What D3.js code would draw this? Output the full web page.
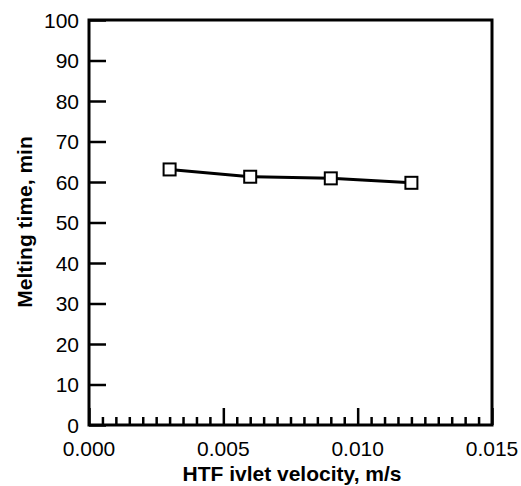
<!DOCTYPE html>
<html>
<head>
<meta charset="utf-8">
<script src="https://cdn.jsdelivr.net/npm/d3@7"></script>
<style>
  body { margin: 0; background: #fff; }
  text { font-family: "Liberation Sans", Arial, sans-serif; }
</style>
</head>
<body>
<div id="chart"></div>
<script>
// data
let velocity = [0.003, 0.006, 0.009, 0.012];
let meltTime = [63.1, 61.3, 60.9, 59.8];
let xTicks = [0, 0.005, 0.010, 0.015];
let yTicks = [0, 10, 20, 30, 40, 50, 60, 70, 80, 90, 100];

let margin = {top: 20, right: 29, bottom: 61, left: 89};
let width = 521 - margin.left - margin.right,
    height = 486 - margin.top - margin.bottom;

let svg = d3.select("#chart").append("svg")
    .attr("width", 521)
    .attr("height", 486)
    .append("g")
    .attr("transform", `translate(${margin.left},${margin.top})`);

let xScale = d3.scaleLinear().domain([0, 0.015]).range([0, width]);
let yScale = d3.scaleLinear().domain([0, 100]).range([height, 0]);

// minor x ticks every 0.0005, drawn inward
let minor = d3.range(1, 30).map(i => i * 0.0005).filter(v => Math.abs(v / 0.005 - Math.round(v / 0.005)) > 1e-6);
svg.append("g")
    .attr("transform", `translate(0,${height})`)
    .call(d3.axisTop(xScale).tickValues(minor).tickSize(8).tickFormat(""))
    .call(g => g.select(".domain").remove())
    .selectAll("line").attr("stroke-width", 2.5);

// major x ticks
svg.append("g")
    .attr("transform", `translate(0,${height})`)
    .call(d3.axisTop(xScale).tickValues(xTicks).tickSize(17).tickFormat(""))
    .call(g => g.select(".domain").remove())
    .selectAll("line").attr("stroke-width", 2.5);

svg.selectAll(".xlab")
    .data(xTicks)
    .enter().append("text")
    .attr("class", "xlab")
    .attr("x", d => xScale(d))
    .attr("y", height + 31)
    .attr("text-anchor", "middle")
    .style("font-size", "21px")
    .text(d => d3.format(".3f")(d));

// y ticks, inward
svg.append("g")
    .call(d3.axisRight(yScale).tickValues(yTicks).tickSize(17).tickFormat(""))
    .call(g => g.select(".domain").remove())
    .selectAll("line").attr("stroke-width", 2.5);

svg.selectAll(".ylab")
    .data(yTicks)
    .enter().append("text")
    .attr("class", "ylab")
    .attr("x", -10)
    .attr("y", d => yScale(d) + 7.5)
    .attr("text-anchor", "end")
    .style("font-size", "21px")
    .text(d => d);

// frame
svg.append("rect")
    .attr("x", 0)
    .attr("y", 0)
    .attr("width", width)
    .attr("height", height)
    .attr("fill", "none")
    .attr("stroke", "black")
    .attr("stroke-width", 3);

let points = velocity.map((v, i) => ({x: v, y: meltTime[i]}));

let line = d3.line()
    .x(d => xScale(d.x))
    .y(d => yScale(d.y));

svg.append("path")
    .datum(points)
    .attr("d", line)
    .attr("fill", "none")
    .attr("stroke", "black")
    .attr("stroke-width", 3);

svg.selectAll(".pt")
    .data(points)
    .enter().append("rect")
    .attr("class", "pt")
    .attr("x", d => xScale(d.x) - 6)
    .attr("y", d => yScale(d.y) - 6)
    .attr("width", 12)
    .attr("height", 12)
    .attr("fill", "white")
    .attr("stroke", "black")
    .attr("stroke-width", 2);

// axis titles
svg.append("text")
    .attr("x", 292 - margin.left)
    .attr("y", height + 56)
    .attr("text-anchor", "middle")
    .style("font-size", "21px")
    .style("font-weight", "bold")
    .text("HTF ivlet velocity, m/s");

svg.append("text")
    .attr("transform", `translate(${-57},${222 - margin.top}) rotate(-90)`)
    .attr("text-anchor", "middle")
    .style("font-size", "21px")
    .style("font-weight", "bold")
    .text("Melting time, min");
</script>
</body>
</html>
